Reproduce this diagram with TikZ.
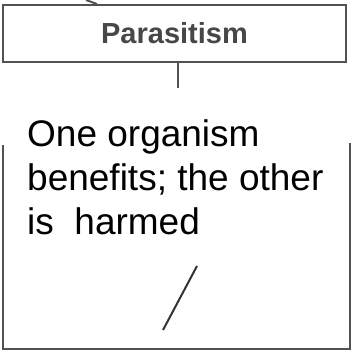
\documentclass[tikz,border=0pt]{standalone}
\usepackage{fontspec}
\setmainfont{Liberation Sans}
\usepackage{xcolor}
\usepackage{tikz}
\usetikzlibrary{positioning,calc}

\begin{document}
\begin{tikzpicture}[
    x=1pt, y=-1pt,
    every node/.style={inner sep=0pt},
    frame/.style={line width=2pt, draw=black!68},
    link/.style={line width=2pt, draw=black!68},
    titlebox/.style={frame, minimum width=343pt, minimum height=57pt,
        font=\fontsize{29}{34}\selectfont\bfseries, text=black!72},
    desc/.style={align=left, font=\fontsize{37}{44}\selectfont}
]
\useasboundingbox (0,0) rectangle (353,354);

% Top box
\node[titlebox] (para) at (174.5,33.5) {Parasitism};

% incoming stub at the top edge
\coordinate (instub) at (86,0);
\draw[link] (instub) -- (para.north -| 97,0);

% connector down to the definition
\coordinate (gap) at (178,88);
\draw[link] (para.south -| gap) -- (gap);

% Lower box (top part hidden behind the text)
\coordinate (lbl) at (3,145);
\coordinate (lbbl) at (3,349);
\coordinate (lbbr) at (350,349);
\coordinate (lbr) at (350,143);
\draw[frame] (lbl) -- (lbbl) -- (lbbr) -- (lbr);

% base of a multi-line node sits on its last line
\node[desc, anchor=base west] (def) at (27,234)
    {One organism\\benefits; the other\\is\ \ harmed};

% slash inside the lower box
\coordinate (slashlo) at (163,330);
\coordinate (slashhi) at (197,266);
\draw[line width=2pt, black!80] (slashlo) -- (slashhi);

\end{tikzpicture}
\end{document}
